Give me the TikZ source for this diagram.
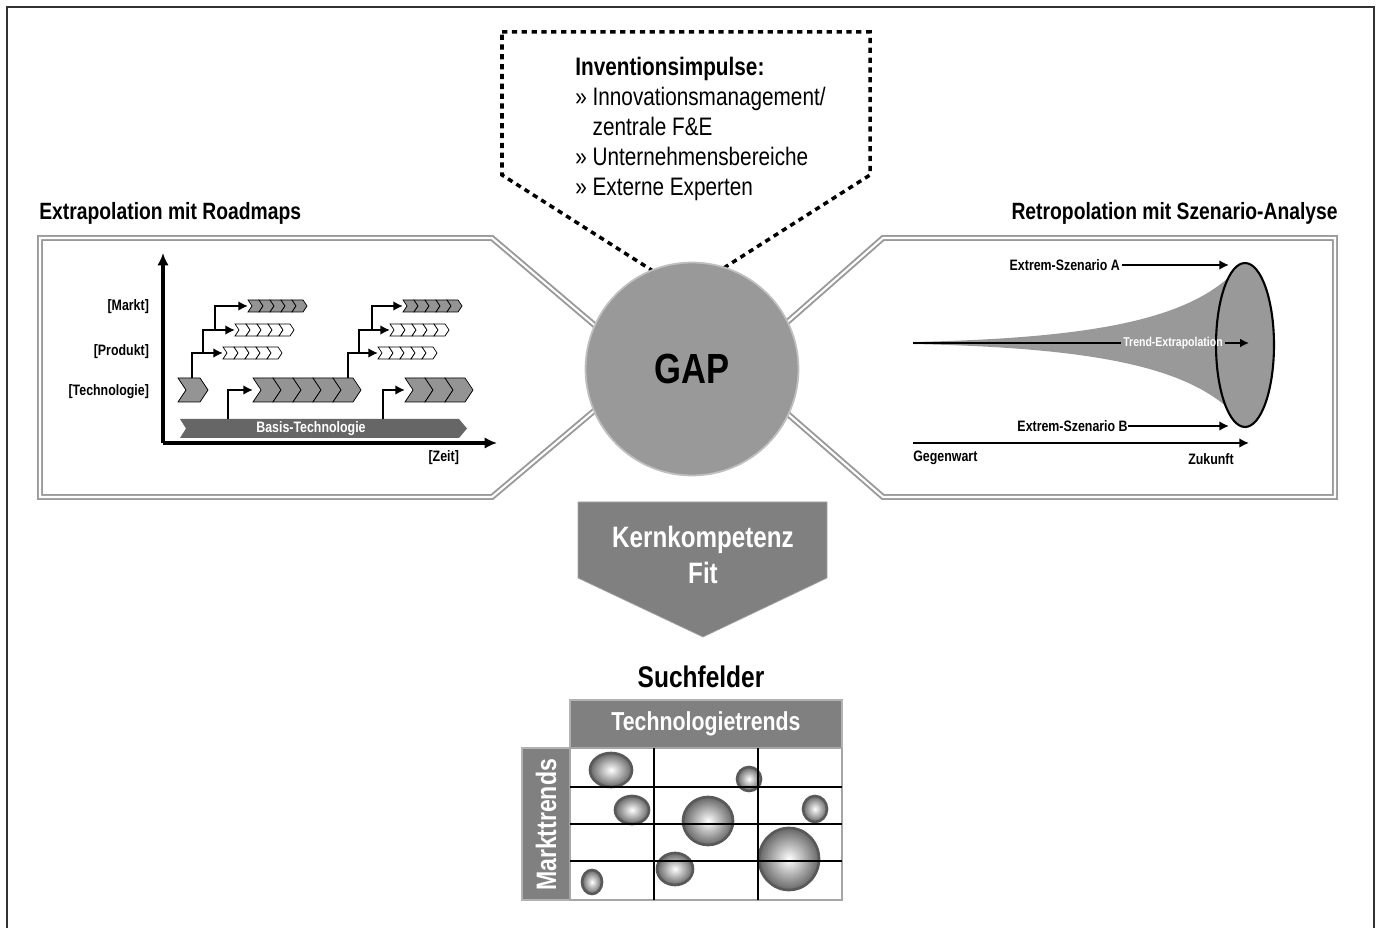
\documentclass[tikz,border=0pt]{standalone}
\usepackage{fontspec}
\setmainfont{Liberation Sans}[FakeStretch=0.82]
\usetikzlibrary{shapes.geometric, arrows.meta}

\newcommand{\chevrow}[7]{%
  \coordinate (#1) at (#2,#3);
  \foreach \i in {1,...,#4}
    \filldraw[fill=#7, draw=black, line width=.4pt] ({#2+(\i-1)*#5},{#3-#6/2}) -- ++(#5,0) -- ++({#6/3},{#6/2}) -- ++({-#6/3},{#6/2}) -- ++(-#5,0) -- ++({#6/3},{-#6/2}) -- cycle;
}

\tikzset{
  lbl/.style={font=\bfseries\fontsize{8.6}{10}\selectfont, inner sep=1pt},
  title/.style={font=\bfseries\fontsize{13.4}{16}\selectfont, inner sep=0pt},
  panel/.style={draw=black!40, double=white, double distance=1.2pt, line width=1.1pt},
  bubble/.style={inner color=white, outer color=black!60, draw=black!65, line width=1.5pt}
}

\begin{document}
\begin{tikzpicture}[x=0.02cm, y=-0.02cm,
    conn/.style={line width=1.2pt, -{Latex[length=5.5pt, width=5.5pt]}},
    axis/.style={line width=1.8pt, -{Latex[length=7pt, width=6.5pt]}},
    gridline/.style={line width=1pt}]
    \useasboundingbox (0,0) rectangle (1380,928);
    \fill[white] (0,0) rectangle (1380,928);
    \draw[line width=1.1pt, black!80] (7,928) -- (7,7) -- (1374,7) -- (1374,928);

    \draw[panel] (40,238) -- (492,238) -- (645,368) -- (492,497) -- (40,497) -- cycle;
    \draw[panel] (883,238) -- (1335,238) -- (1335,497) -- (883,497) -- (735,368) -- cycle;
    \draw[line width=2pt, dash pattern=on 3pt off 2.6pt] (502,32) -- (870,32) -- (870,175) -- (686,292) -- (502,175) -- cycle;
    \node[circle, fill=black!40, draw=black!25, line width=1pt, minimum size=4.26cm, inner sep=0pt, font=\bfseries\fontsize{24}{28}\selectfont] (gap) at (692,369) {GAP};

    \node[anchor=north west, align=left, inner sep=0pt, font=\fontsize{14.4}{17}\selectfont] (inv) at (575,57) {\textbf{Inventionsimpulse:}\\» Innovationsmanagement/\\\phantom{» }zentrale F\&E\\» Unternehmensbereiche\\» Externe Experten};
    \node[title, anchor=west] (ltitle) at (39,213) {Extrapolation mit Roadmaps};
    \node[title, anchor=east] (rtitle) at (1338,213) {Retropolation mit Szenario-Analyse};

    % Roadmaps
    \coordinate (orig) at (163,443);
    \draw[axis] (orig) -- (163,253);
    \draw[axis] (orig) -- (497,443);
    \node[lbl, anchor=east] (markt) at (151,307) {[Markt]};
    \node[lbl, anchor=east] (produkt) at (151,352) {[Produkt]};
    \node[lbl, anchor=east] (techn) at (151,392) {[Technologie]};
    \node[lbl, anchor=east] (zeit) at (461,458) {[Zeit]};

    \fill[black!60] (180,419) -- (459,419) -- (467,428.5) -- (459,438) -- (180,438) -- (186,428.5) -- cycle;
    \node[lbl, white] (basis) at (311,429) {Basis-Technologie};

    \chevrow{tech}{178}{390}{1}{22}{24}{black!42}
    \chevrow{tc1}{253}{390}{5}{20}{24}{black!42}
    \chevrow{tc2}{405}{390}{3}{20}{24}{black!42}
    \chevrow{pl1}{223}{353}{5}{11}{12}{white}
    \chevrow{pm1}{235}{330}{5}{11}{12}{white}
    \chevrow{mk1}{248}{306}{5}{11}{12}{black!42}
    \chevrow{pl2}{378}{353}{5}{11}{12}{white}
    \chevrow{pm2}{390}{330}{5}{11}{12}{white}
    \chevrow{mk2}{403}{306}{5}{11}{12}{black!42}

    \draw[conn] (192,378) |- (pl1);
    \draw[conn] (203,353) |- (pm1);
    \draw[conn] (215,330) |- (mk1);
    \draw[conn] (348,378) |- (pl2);
    \draw[conn] (359,353) |- (pm2);
    \draw[conn] (372,330) |- (mk2);
    \draw[conn] (228,419) |- (tc1);
    \draw[conn] (383,419) |- (tc2);

    % Szenario
    \fill[black!40] (913,342) .. controls (1100,338) and (1195,318) .. (1240,266) -- (1240,420) .. controls (1195,368) and (1100,348) .. (913,344) -- cycle;
    \node[ellipse, fill=black!40, draw=black, line width=1.2pt, minimum width=1.16cm, minimum height=3.28cm, inner sep=0pt] (future) at (1245,345) {};
    \node[lbl, white, font=\bfseries\fontsize{7.3}{8}\selectfont] (trend) at (1173,343) {Trend-Extrapolation};
    \draw[line width=1.4pt] (913,343) -- (trend.west);
    \draw[line width=1.4pt, -{Latex[length=5pt, width=5pt]}] (trend.east) -- (1249,343);
    \node[lbl, anchor=east] (exA) at (1122,265) {Extrem-Szenario A};
    \coordinate (endA) at (1229,265);
    \draw[conn] (exA) -- (endA);
    \node[lbl, anchor=east, inner sep=0pt] (exB) at (1128,426) {Extrem-Szenario B};
    \coordinate (endB) at (1229,426);
    \draw[conn] (exB) -- (endB);
    \coordinate (now) at (913,443);
    \draw[conn, line width=1.6pt] (now) -- (1249,443);
    \node[lbl, anchor=west, inner sep=0pt] (gegen) at (913,458) {Gegenwart};
    \node[lbl] (zukunft) at (1211,459) {Zukunft};

    % Kernkompetenz und Suchfelder
    \filldraw[fill=black!50, draw=black!35] (578,502) -- (827,502) -- (827,578) -- (703,637) -- (578,578) -- cycle;
    \node[white, align=center, font=\bfseries\fontsize{16.8}{20.4}\selectfont] (kk) at (703,555) {Kernkompetenz\\Fit};
    \node[font=\bfseries\fontsize{17}{20}\selectfont] (such) at (701,677) {Suchfelder};
    \filldraw[fill=black!50, draw=black!30, line width=1pt] (570,700) rectangle (842,748);
    \node[white, font=\bfseries\fontsize{14.8}{17}\selectfont] (tt) at (706,724) {Technologietrends};
    \filldraw[fill=black!50, draw=black!30, line width=1pt] (522,748) rectangle (570,900);
    \node[white, rotate=90, font=\bfseries\fontsize{16}{18}\selectfont] (mt) at (546,825) {Markttrends};
    \draw[black!35, line width=1pt] (570,748) rectangle (842,900);
    \shade[bubble] (611,770) ellipse [x radius=21, y radius=17];
    \shade[bubble] (632,810) ellipse [x radius=17, y radius=14];
    \shade[bubble] (708,821) ellipse [x radius=25, y radius=24];
    \shade[bubble] (749,779) ellipse [x radius=12, y radius=12];
    \shade[bubble] (815,809) ellipse [x radius=12, y radius=13];
    \shade[bubble] (789,859) ellipse [x radius=30, y radius=31];
    \shade[bubble] (675,869) ellipse [x radius=18, y radius=16];
    \shade[bubble] (592,882) ellipse [x radius=10, y radius=12];
    \foreach \y in {787,824,861} \draw[gridline] (570,\y) -- (842,\y);
    \foreach \x in {654,758} \draw[gridline] (\x,748) -- (\x,900);
\end{tikzpicture}
\end{document}
